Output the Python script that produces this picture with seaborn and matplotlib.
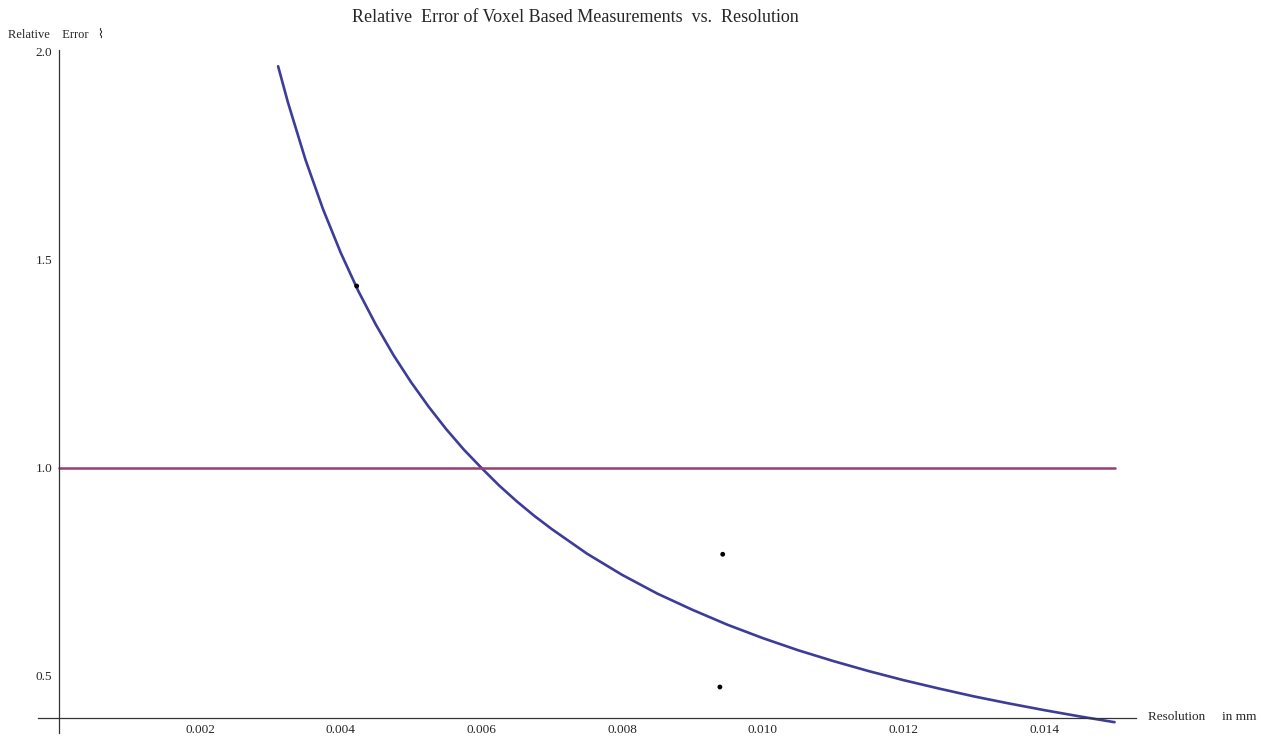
import matplotlib
matplotlib.use('Agg')
import matplotlib.pyplot as plt
import seaborn as sns
from matplotlib.ticker import FixedLocator, MultipleLocator

# Values
resolution_mm = [0.00311, 0.00325, 0.0035, 0.00375, 0.004, 0.00425, 0.0045, 0.00475,
                 0.005, 0.00525, 0.0055, 0.00575, 0.006, 0.00625, 0.0065, 0.00675,
                 0.007, 0.0075, 0.008, 0.0085, 0.009, 0.0095, 0.010, 0.0105,
                 0.011, 0.0115, 0.012, 0.0125, 0.013, 0.0135, 0.014, 0.0145, 0.015]
relative_error = [1.965, 1.878, 1.740, 1.621, 1.517, 1.425, 1.344, 1.271,
                  1.206, 1.147, 1.093, 1.044, 1.000, 0.958, 0.920, 0.885,
                  0.853, 0.794, 0.743, 0.698, 0.659, 0.623, 0.591, 0.562,
                  0.536, 0.512, 0.490, 0.470, 0.451, 0.434, 0.418, 0.403, 0.389]

sample_res = [0.004227, 0.00943, 0.00939]
sample_err = [1.437, 0.7925, 0.4736]

threshold_x = [0.0, 0.015]
threshold_y = [1.0, 1.0]

x_ticks = [0.002, 0.004, 0.006, 0.008, 0.010, 0.012, 0.014]
x_tick_labels = ['0.002', '0.004', '0.006', '0.008', '0.010', '0.012', '0.014']
y_ticks = [0.5, 1.0, 1.5, 2.0]
y_tick_labels = ['0.5', '1.0', '1.5', '2.0']

sns.set_theme(style='white')
plt.rcParams['font.family'] = ['Liberation Serif', 'DejaVu Sans']

fig = plt.figure(figsize=(12.61, 7.40), dpi=100)
ax = fig.add_axes([0.0303, 0.0100, 0.8703, 0.9224])

# curve, threshold line and measured points
sns.lineplot(x=resolution_mm, y=relative_error, color='#3d3d99', linewidth=1.9,
             sort=False, ax=ax)
sns.lineplot(x=threshold_x, y=threshold_y, color='#993d74', linewidth=1.8, ax=ax)
sns.scatterplot(x=sample_res, y=sample_err, color='black', s=12, edgecolor='none',
                zorder=5, ax=ax)

ax.set_xlim(-0.0003, 0.0153)
ax.set_ylim(0.364, 2.004)

# Mathematica style crossing axes
ax.spines['left'].set_position(('data', 0.0))
ax.spines['bottom'].set_position(('data', 0.4))
ax.spines['top'].set_visible(False)
ax.spines['right'].set_visible(False)
for s in ['left', 'bottom']:
    ax.spines[s].set_color('#333333')
    ax.spines[s].set_linewidth(0.9)

ax.xaxis.set_major_locator(FixedLocator(x_ticks))
ax.set_xticklabels(x_tick_labels)
ax.xaxis.set_minor_locator(MultipleLocator(0.0005))
ax.yaxis.set_major_locator(FixedLocator(y_ticks))
ax.set_yticklabels(y_tick_labels)
ax.yaxis.set_minor_locator(MultipleLocator(0.1))

ax.tick_params(which='both', direction='in', color='#333333', width=0.8)
ax.tick_params(which='major', length=3.5, labelsize=9.5, pad=5)
ax.tick_params(which='minor', length=1.8)
ax.tick_params(axis='x', which='major', pad=4.5)
ax.set_xlabel('')
ax.set_ylabel('')
ax.grid(False)

fig.text(575 / 1261, 1 - 17 / 740,
         'Relative  Error of Voxel Based Measurements  vs.  Resolution',
         ha='center', va='center', fontsize=13)
fig.text(8 / 1261, 1 - 35 / 740, 'Relative    Error   \u2307', ha='left', va='center', fontsize=9)
fig.text(1148 / 1261, 1 - 717 / 740, 'Resolution     in mm', ha='left', va='center', fontsize=9.5)

fig.savefig('out.png', dpi=100)
